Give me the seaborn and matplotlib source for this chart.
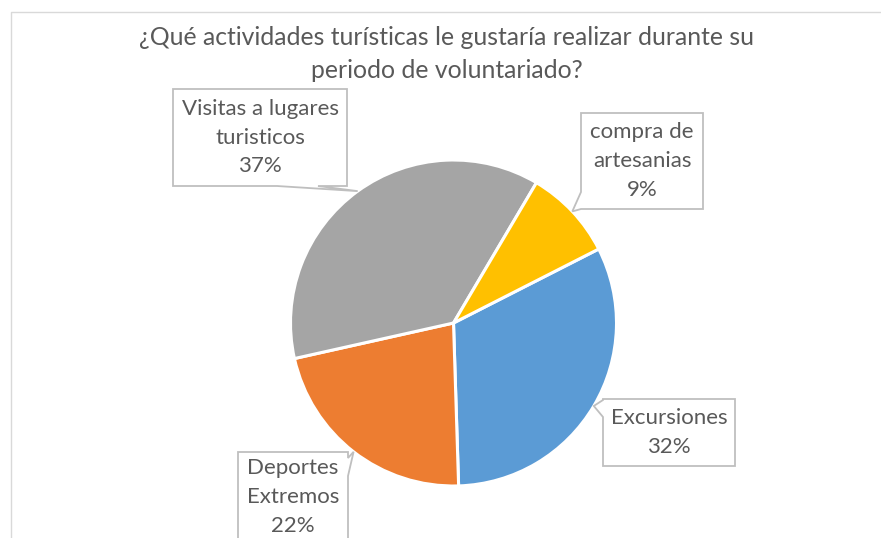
import matplotlib
matplotlib.use("Agg")
import matplotlib.pyplot as plt
import seaborn as sns
import numpy as np
from matplotlib.patches import Polygon

# datos del grafico
categorias = ["Excursiones", "Deportes\nExtremos", "Visitas a lugares\nturisticos", "compra de\nartesanias"]
porcentajes = [32, 22, 37, 9]
colores = ["#5B9BD5", "#ED7D31", "#A5A5A5", "#FFC000"]
titulo = "¿Qué actividades turísticas le gustaría realizar durante su\nperiodo de voluntariado?"

# cajas de etiquetas en pixeles (izq, arriba, der, abajo) y lado de la cola
cajas = [(603, 399, 735, 466), (238, 452, 348, 542), (173, 89, 347, 186), (581, 113, 703, 209)]
colas = [("left", 400, 417), ("right", 458, 476), ("bottom", 277, 318), ("left", 192, 209)]

sns.set_style("white")
plt.rcParams['font.family'] = ['Lato', 'DejaVu Sans']

W, H = 881, 538
fig = plt.figure(figsize=(W / 100, H / 100), dpi=100)
ax = fig.add_axes([0, 0, 1, 1])

cx, cy, r = 453.5, H - 323, 163
wedges, _ = ax.pie(porcentajes, colors=colores, startangle=27, counterclock=False,
                   center=(cx, cy), radius=r,
                   wedgeprops=dict(edgecolor="white", linewidth=2.2))
ax.set_xlim(0, W)
ax.set_ylim(0, H)
ax.set_aspect("equal")
ax.axis("off")


def callout(caja, cola, tip):
    x0, y0, x1, y1 = caja
    lado, b0, b1 = cola
    pts = [(x0, y0)]
    if lado == "top":
        pts += [(b0, y0), tip, (b1, y0)]
    pts += [(x1, y0)]
    if lado == "right":
        pts += [(x1, b0), tip, (x1, b1)]
    pts += [(x1, y1)]
    if lado == "bottom":
        pts += [(b1, y1), tip, (b0, y1)]
    pts += [(x0, y1)]
    if lado == "left":
        pts += [(x0, b1), tip, (x0, b0)]
    return [(px, H - py) for px, py in pts]


for w, cat, p, caja, cola in zip(wedges, categorias, porcentajes, cajas, colas):
    ang = np.deg2rad((w.theta1 + w.theta2) / 2)
    tip = (cx + r * np.cos(ang), H - (cy + r * np.sin(ang)))
    poly = Polygon(callout(caja, cola, tip), closed=True, facecolor="white",
                   edgecolor="#BFBFBF", lw=1.3, zorder=3, clip_on=False)
    ax.add_patch(poly)
    ax.text((caja[0] + caja[2]) / 2, H - (caja[1] + caja[3]) / 2, f"{cat}\n{p}%",
            ha="center", va="center", color="#595959", fontsize=16,
            linespacing=1.55, zorder=4)

# borde del area del grafico
ax.plot([11, 11, W], [0, H - 12, H - 12], color="#D9D9D9", lw=1, clip_on=False)

fig.text(447 / W, 1 - 54 / H, titulo, ha="center", va="center",
         fontsize=17.8, color="#595959", linespacing=1.5)

fig.savefig("out.png", dpi=100)
